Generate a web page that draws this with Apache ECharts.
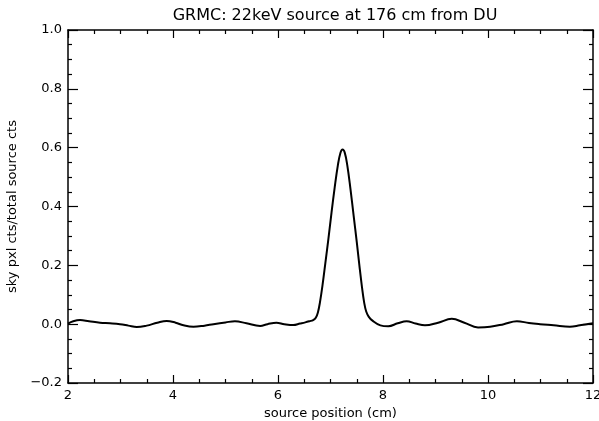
<!DOCTYPE html>
<html><head><meta charset="utf-8">
<script src="https://cdn.jsdelivr.net/npm/echarts@6/dist/echarts.min.js"></script>
<style>html,body{margin:0;padding:0;background:#fff}#c{width:599px;height:421px}</style>
</head><body><div id="c"></div>
<script>
const titleText = "GRMC: 22keV source at 176 cm from DU";
const xName = "source position (cm)";
const yName = "sky pxl cts/total source cts";
const positions = [2.00,2.10,2.23,2.40,2.61,2.80,2.99,3.15,3.31,3.50,3.70,3.88,4.05,4.20,4.39,4.60,4.77,5.00,5.18,5.40,5.66,5.80,5.97,6.12,6.29,6.42,6.52,6.60,6.67,6.72,6.76,6.80,6.85,6.90,6.96,7.02,7.08,7.14,7.19,7.23,7.27,7.32,7.38,7.44,7.50,7.55,7.60,7.64,7.68,7.73,7.80,7.95,8.10,8.28,8.45,8.62,8.80,9.05,9.31,9.55,9.81,10.04,10.30,10.55,10.78,10.99,11.25,11.56,11.75,11.88,12.00];
const fractions = [0.002,0.010,0.014,0.010,0.005,0.003,0.000,-0.005,-0.010,-0.005,0.005,0.011,0.005,-0.004,-0.009,-0.005,0.000,0.006,0.010,0.003,-0.006,0.000,0.005,0.000,-0.003,0.002,0.006,0.010,0.014,0.022,0.040,0.075,0.135,0.205,0.290,0.380,0.465,0.540,0.583,0.594,0.584,0.540,0.460,0.370,0.280,0.200,0.125,0.075,0.043,0.025,0.012,-0.004,-0.007,0.003,0.010,0.002,-0.004,0.005,0.018,0.005,-0.011,-0.009,0.000,0.010,0.004,0.000,-0.004,-0.009,-0.004,0.000,0.003];

const chart = echarts.init(document.getElementById('c'), null, {renderer:'canvas'});
const font = "'DejaVu Sans', sans-serif";
const tickX = {show:true,inside:true,length:8,lineStyle:{color:'#000',width:1.2}};
const tickY = {show:true,inside:true,length:10,lineStyle:{color:'#000',width:1.2}};
const minor = {show:true,splitNumber:4,length:4,lineStyle:{color:'#000',width:1.2}};
const line = {show:true,onZero:false,lineStyle:{color:'#000',width:1.5}};
chart.setOption({
  backgroundColor:'#fff',
  animation:false,
  title:{text:titleText,left:330,textAlign:'center',top:3,textStyle:{fontFamily:font,fontWeight:'normal',fontSize:16,color:'#000'}},
  grid:{left:68,right:6,top:30,bottom:38,outerBoundsMode:'none',containLabel:false},
  xAxis:[
    {type:'value',position:'bottom',min:2,max:12,interval:2,name:xName,nameLocation:'middle',nameGap:22,
      nameTextStyle:{fontFamily:font,fontSize:13,color:'#000'},
      axisLabel:{fontFamily:font,fontSize:13,color:'#000',margin:6},
      axisLine:line,axisTick:tickX,minorTick:minor,splitLine:{show:false}},
    {type:'value',position:'top',min:2,max:12,interval:2,axisLabel:{show:false},
      axisLine:line,axisTick:tickX,minorTick:minor,splitLine:{show:false}}
  ],
  yAxis:[
    {type:'value',position:'left',min:-0.2,max:1.0,interval:0.2,name:yName,nameLocation:'middle',nameGap:46,
      nameTextStyle:{fontFamily:font,fontSize:13,color:'#000'},
      axisLabel:{fontFamily:font,fontSize:13,color:'#000',margin:6,formatter:v=>v.toFixed(1).replace('-','\u2212')},
      axisLine:line,axisTick:tickY,minorTick:minor,splitLine:{show:false}},
    {type:'value',position:'right',min:-0.2,max:1.0,interval:0.2,axisLabel:{show:false},
      axisLine:line,axisTick:tickY,minorTick:minor,splitLine:{show:false}}
  ],
  series:[{type:'line',data:positions.map((x,i)=>[x,fractions[i]]),smooth:0.4,showSymbol:false,
    lineStyle:{color:'#000',width:2},clip:true}]
});
</script></body></html>
